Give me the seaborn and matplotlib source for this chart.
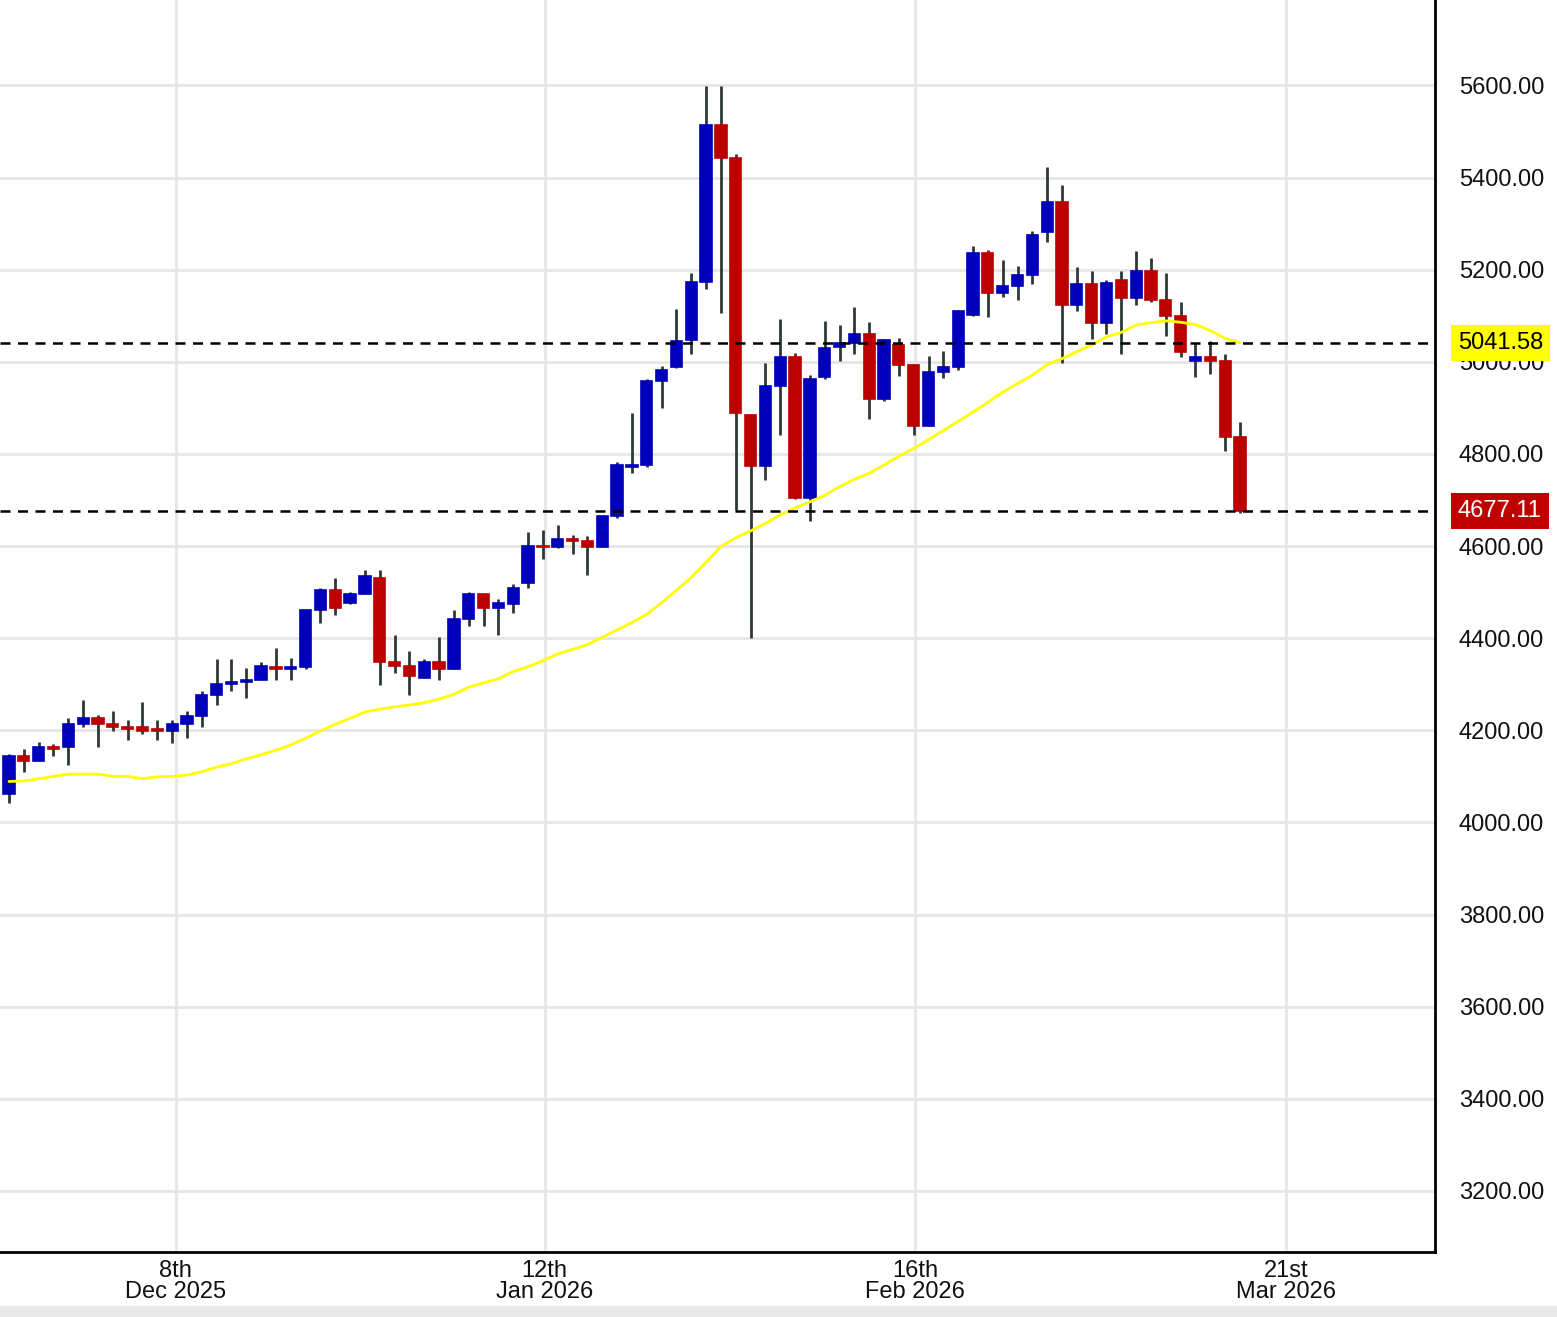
import matplotlib
matplotlib.use("Agg")
import matplotlib.pyplot as plt
import seaborn as sns
import pandas as pd
import numpy as np

# daily candles
opens = [4061, 4144, 4134, 4163, 4164, 4213, 4227, 4213, 4208, 4207, 4202, 4198, 4213, 4232,
         4276, 4300, 4305, 4310, 4338, 4334, 4338, 4461, 4505, 4476, 4496, 4530, 4349, 4339,
         4314, 4349, 4334, 4441, 4496, 4466, 4474, 4519, 4601, 4597, 4615, 4611, 4597, 4665,
         4772, 4777, 4958, 4988, 5048, 5174, 5515, 5442, 4884, 4774, 4948, 5011, 4704, 4967,
         5033, 5041, 5061, 4920, 5036, 4993, 4861, 4978, 4989, 5101, 5237, 5150, 5164, 5188,
         5281, 5348, 5124, 5168, 5085, 5177, 5139, 5197, 5134, 5100, 5002, 5011, 5002, 4836]
highs = [4148, 4159, 4174, 4171, 4226, 4266, 4233, 4241, 4222, 4261, 4222, 4222, 4241, 4286,
         4354, 4354, 4335, 4349, 4378, 4358, 4462, 4510, 4530, 4501, 4549, 4549, 4407, 4373,
         4354, 4402, 4461, 4501, 4497, 4485, 4518, 4630, 4635, 4646, 4625, 4621, 4666, 4782,
         4890, 4963, 4992, 5114, 5193, 5599, 5599, 5451, 4886, 4997, 5094, 5020, 4972, 5089,
         5080, 5120, 5086, 5049, 5052, 4995, 5013, 5023, 5112, 5252, 5242, 5222, 5208, 5285,
         5422, 5383, 5207, 5197, 5177, 5197, 5241, 5226, 5192, 5129, 5041, 5046, 5016, 4870]
lows = [4042, 4110, 4133, 4144, 4125, 4208, 4164, 4198, 4178, 4193, 4178, 4173, 4184, 4208,
        4256, 4286, 4271, 4309, 4309, 4309, 4334, 4432, 4451, 4475, 4495, 4299, 4324, 4276,
        4313, 4309, 4333, 4427, 4427, 4407, 4455, 4509, 4572, 4596, 4583, 4538, 4597, 4660,
        4758, 4772, 4900, 4987, 5017, 5158, 5106, 4678, 4401, 4743, 4841, 4703, 4655, 4962,
        5002, 5017, 4876, 4915, 4969, 4842, 4860, 4964, 4983, 5100, 5097, 5140, 5135, 5170,
        5260, 4997, 5110, 5050, 5061, 5017, 5124, 5129, 5056, 5011, 4968, 4973, 4807, 4671]
closes = [4144, 4134, 4163, 4159, 4213, 4227, 4213, 4208, 4202, 4199, 4198, 4213, 4232, 4276,
          4300, 4305, 4310, 4339, 4334, 4338, 4461, 4505, 4466, 4496, 4535, 4349, 4339, 4319,
          4349, 4334, 4441, 4496, 4466, 4476, 4508, 4601, 4597, 4615, 4611, 4597, 4665, 4777,
          4777, 4958, 4982, 5046, 5173, 5515, 5442, 4889, 4773, 4948, 5011, 4704, 4962, 5030,
          5040, 5061, 4920, 5048, 4994, 4861, 4978, 4989, 5111, 5237, 5150, 5164, 5188, 5276,
          5348, 5124, 5168, 5085, 5172, 5139, 5197, 5134, 5100, 5021, 5011, 5002, 4836, 4677.11]
# moving average (yellow line)
ma = [4089, 4090, 4095, 4100, 4105, 4105, 4105, 4100, 4100, 4095, 4099, 4100, 4103, 4110,
      4120, 4128, 4138, 4147, 4157, 4168, 4183, 4199, 4213, 4226, 4240, 4246, 4251, 4255,
      4260, 4268, 4278, 4294, 4303, 4312, 4328, 4338, 4351, 4366, 4376, 4386, 4402, 4418,
      4434, 4452, 4477, 4504, 4532, 4565, 4599, 4618, 4633, 4649, 4668, 4683, 4696, 4710,
      4729, 4745, 4758, 4776, 4795, 4812, 4831, 4851, 4871, 4891, 4912, 4934, 4953, 4971,
      4994, 5007, 5022, 5037, 5054, 5064, 5080, 5085, 5089, 5086, 5081, 5068, 5051, 5041.58]

date_labels = ["8th\nDec 2025", "12th\nJan 2026", "16th\nFeb 2026", "21st\nMar 2026"]
price_ticks = [3200, 3400, 3600, 3800, 4000, 4200, 4400, 4600, 4800, 5000, 5200, 5400, 5600]
ma_last = 5041.58
last_price = 4677.11

df = pd.DataFrame({"open": opens, "high": highs, "low": lows, "close": closes, "ma": ma})
df["idx"] = np.arange(len(df))
df["up"] = df["close"] >= df["open"]

sns.set_theme(style="white")
plt.rcParams["font.family"] = ["Liberation Sans", "DejaVu Sans"]

fig = plt.figure(figsize=(15.57, 13.17), dpi=100)
ax = fig.add_axes([0, 1 - 1252 / 1317, 1435 / 1557, 1252 / 1317])

blue = "#0000bb"
red = "#bb0000"
colors = [blue if u else red for u in df["up"]]

# grid
tick_pos = [11.23, 36.11, 61.1, 86.11]
for p in price_ticks:
    ax.axhline(p, color="#e6e6e6", lw=2, zorder=0)
for t in tick_pos:
    ax.axvline(t, color="#e6e6e6", lw=2, zorder=0)

# wicks and bodies
ax.vlines(df["idx"], df["low"], df["high"], color="#2f3838", lw=2, zorder=2)
bottoms = np.minimum(df["open"], df["close"])
heights = np.abs(df["close"] - df["open"])
ax.bar(df["idx"], heights, bottom=bottoms, width=0.76, color=colors,
       edgecolor=colors, linewidth=1.2, zorder=3)

# moving average
sns.lineplot(data=df, x="idx", y="ma", color="#ffff00", lw=2, ax=ax, zorder=4)

# reference dashed lines
ax.axhline(ma_last, color="black", lw=1.8, ls=(0, (4, 3)), zorder=5)
ax.axhline(last_price, color="black", lw=1.8, ls=(0, (4, 3)), zorder=5)

ax.set_xlim(-0.607, 96.15)
ax.set_ylim(3067.5, 5785.6)
ax.set_xticks(tick_pos)
ax.set_xticklabels(date_labels, fontsize=17, linespacing=0.92)
ax.yaxis.tick_right()
ax.set_yticks(price_ticks)
ax.set_yticklabels([f"{p:.2f}" for p in price_ticks], fontsize=17)
ax.tick_params(axis="y", length=0, pad=17, colors="#111111")
ax.tick_params(axis="x", length=0, pad=6, colors="#111111")
ax.set_xlabel("")
ax.set_ylabel("")

for side in ["left", "top"]:
    ax.spines[side].set_visible(False)
for side in ["right", "bottom"]:
    ax.spines[side].set_color("black")
    ax.spines[side].set_linewidth(2)

# price tags on the right axis
ytrans = ax.get_yaxis_transform()
ax.text(1.0158, ma_last, f"{ma_last:.2f}", transform=ytrans, fontsize=17, color="black",
        va="center", ha="left", zorder=10, clip_on=False,
        bbox=dict(boxstyle="square,pad=0.3", fc="#ffff00", ec="none"))
ax.text(1.0158, last_price, f"{last_price:.2f}", transform=ytrans, fontsize=17, color="white",
        va="center", ha="left", zorder=10, clip_on=False,
        bbox=dict(boxstyle="square,pad=0.3", fc="#c00000", ec="none"))

# grey strip at the bottom
fig.patches.append(plt.Rectangle((0, 0), 1, 11 / 1317, transform=fig.transFigure,
                                 color="#e9e9e9", zorder=0))

fig.savefig("out.png", dpi=100)
